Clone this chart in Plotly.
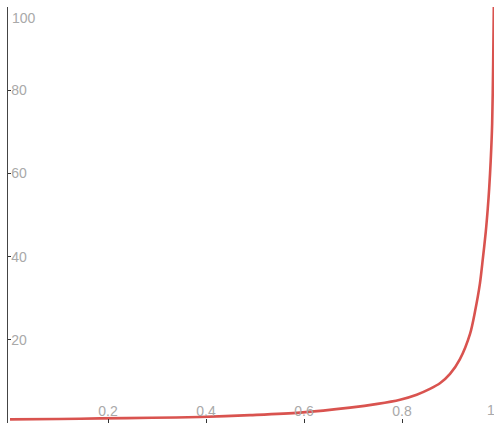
import plotly.graph_objects as go

# data
x_vals = [0.0, 0.1, 0.184, 0.29, 0.388, 0.49, 0.592, 0.694, 0.75, 0.796, 0.83, 0.857, 0.878,
          0.898, 0.918, 0.939, 0.949, 0.959, 0.965, 0.971, 0.975, 0.978, 0.981, 0.984, 0.986, 0.9875]
y_vals = [0.86, 0.95, 1.1, 1.25, 1.45, 1.9, 2.5, 3.7, 4.6, 5.6, 6.8, 8.2, 9.6,
          11.8, 15.3, 21.5, 26.8, 33.5, 39.5, 46.0, 51.5, 56.5, 63.0, 72.0, 86.0, 101.0]

x_ticks = [0.2, 0.4, 0.6, 0.8]
x_tick_text = ["0.2", "0.4", "0.6", "0.8"]
y_ticks = [20, 40, 60, 80, 100]
y_tick_text = ["20", "40", "60", "80", ""]

label_color = "#a9a9a9"
font_family = "Liberation Sans, Arial, sans-serif"

fig = go.Figure()
fig.add_trace(go.Scatter(
    x=x_vals, y=y_vals, mode="lines",
    line=dict(color="#d9534f", width=2.6, shape="spline", smoothing=0.8),
    hoverinfo="skip", showlegend=False,
))

fig.update_layout(
    width=494, height=423,
    margin=dict(l=8, r=0, t=7, b=0),
    paper_bgcolor="white", plot_bgcolor="white",
    font=dict(family=font_family, size=14, color=label_color),
    xaxis=dict(
        range=[-2 / 490, 484 / 490],
        tickvals=x_ticks, ticktext=x_tick_text,
        ticks="inside", ticklen=4, tickcolor="#333", tickwidth=1,
        ticklabelposition="inside", ticklabeloverflow="allow",
        showgrid=False, zeroline=False, showline=False,
        tickfont=dict(size=14, color=label_color),
    ),
    yaxis=dict(
        range=[0, 100],
        tickvals=y_ticks, ticktext=y_tick_text,
        ticks="inside", ticklen=3, tickcolor="#333", tickwidth=1,
        ticklabelposition="inside", ticklabeloverflow="allow",
        showgrid=False, zeroline=False, showline=True, linecolor="#444", linewidth=1,
        tickfont=dict(size=14, color=label_color),
    ),
    annotations=[
        dict(text="100", xref="paper", yref="paper", x=0, y=1, xanchor="left", yanchor="top",
             xshift=2, yshift=-1, showarrow=False, font=dict(size=14, color=label_color)),
        dict(text="1", xref="paper", yref="paper", x=1, y=0, xanchor="right", yanchor="bottom",
             xshift=3, yshift=3, showarrow=False, font=dict(size=14, color=label_color)),
    ],
)

# remove the default page margin so the figure fills the window exactly
fig.write_html(
    "out.html",
    config={"displayModeBar": False},
    post_script="document.body.style.margin='0';document.body.style.overflow='hidden';",
)
